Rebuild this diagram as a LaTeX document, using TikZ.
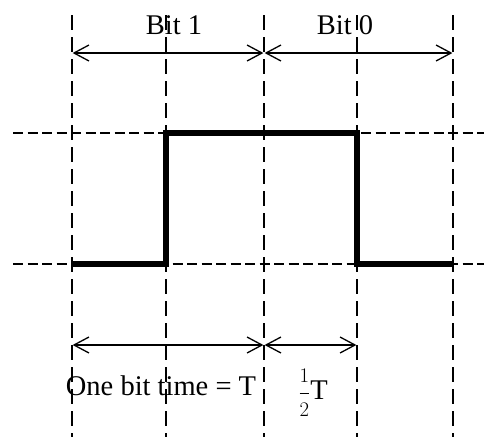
\documentclass[tikz,border=0pt]{standalone}
\usepackage{fontspec}
\setmainfont{Liberation Serif}
\usetikzlibrary{arrows.meta}
\tikzset{
  vgrid/.style={line width=1.3pt, dash pattern=on 15pt off 7pt},
  hgrid/.style={line width=1.2pt, dash pattern=on 10pt off 4.5pt},
  signal/.style={line width=6pt, line join=miter},
  dimline/.style={{Straight Barb[length=15pt,width=16pt,line width=1.3pt]}-{Straight Barb[length=15pt,width=16pt,line width=1.3pt]}, line width=1.3pt, shorten <=0.6pt, shorten >=0.6pt},
  label/.style={inner sep=0pt, font=\fontsize{28.5}{34}\selectfont}
}

\begin{document}
\begin{tikzpicture}[x=1pt,y=-1pt]
  \useasboundingbox (0,0) rectangle (484,437);

  % grid
  \foreach \x [count=\i] in {72,166,264,357,453} {
    \draw[vgrid] (\x,15) -- (\x,437);
    \coordinate (t\i) at (\x,53);
    \coordinate (b\i) at (\x,345);
  }
  \draw[hgrid] (13,133) -- (484,133);
  \draw[hgrid] (13,264) -- (484,264);

  % waveform
  \draw[signal] (72,264) -- (166,264) -- (166,133) -- (357,133) -- (357,264) -- (453,264);

  % dimensions
  \draw[dimline] (t1) -- (t3);
  \draw[dimline] (t3) -- (t5);
  \draw[dimline] (b1) -- (b3);
  \draw[dimline] (b3) -- (b4);

  \node[label] (bitone) at (174,25) {Bit 1};
  \node[label] (bitzero) at (345,25) {Bit 0};
  \node[label] (bittime) at (161,386) {One bit time = T};
  \node[label] (halft) at (313,393) {$\displaystyle\frac{\scriptstyle 1}{\scriptstyle 2}$T};
\end{tikzpicture}
\end{document}
